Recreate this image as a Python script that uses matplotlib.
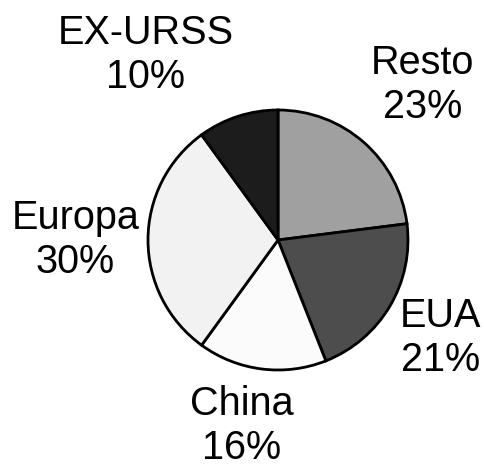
import matplotlib
matplotlib.use("Agg")
from matplotlib import pyplot as plt

# dados
regioes = ["Resto", "EUA", "China", "Europa", "EX-URSS"]
percent = [23, 21, 16, 30, 10]
cores = ["#a0a0a0", "#4d4d4d", "#fbfbfb", "#f2f2f2", "#1c1c1c"]

# posição dos rótulos (em raios do círculo)
pos_rotulos = [(1.11, 1.19), (1.25, -0.755), (-0.28, -1.43), (-1.56, 0.0), (-1.02, 1.425)]

plt.rcParams["font.family"] = ["Liberation Sans", "DejaVu Sans"]

fig = plt.figure(figsize=(4.85, 4.68), dpi=100)
ax = fig.add_axes([0, 0, 1, 1])

cx, cy, r = 278, 240, 130
ax.pie(percent, colors=cores, startangle=90, counterclock=False,
       wedgeprops=dict(edgecolor="black", linewidth=2))

for nome, p, (x, y) in zip(regioes, percent, pos_rotulos):
    ax.text(x, y, f"{nome}\n{p}%", ha="center", va="center",
            fontsize=28.5, linespacing=1.2)

ax.set_xlim(-cx / r, (485 - cx) / r)
ax.set_ylim(-(468 - cy) / r, cy / r)
ax.set_aspect("equal")
ax.axis("off")

fig.savefig("out.png", dpi=100)
